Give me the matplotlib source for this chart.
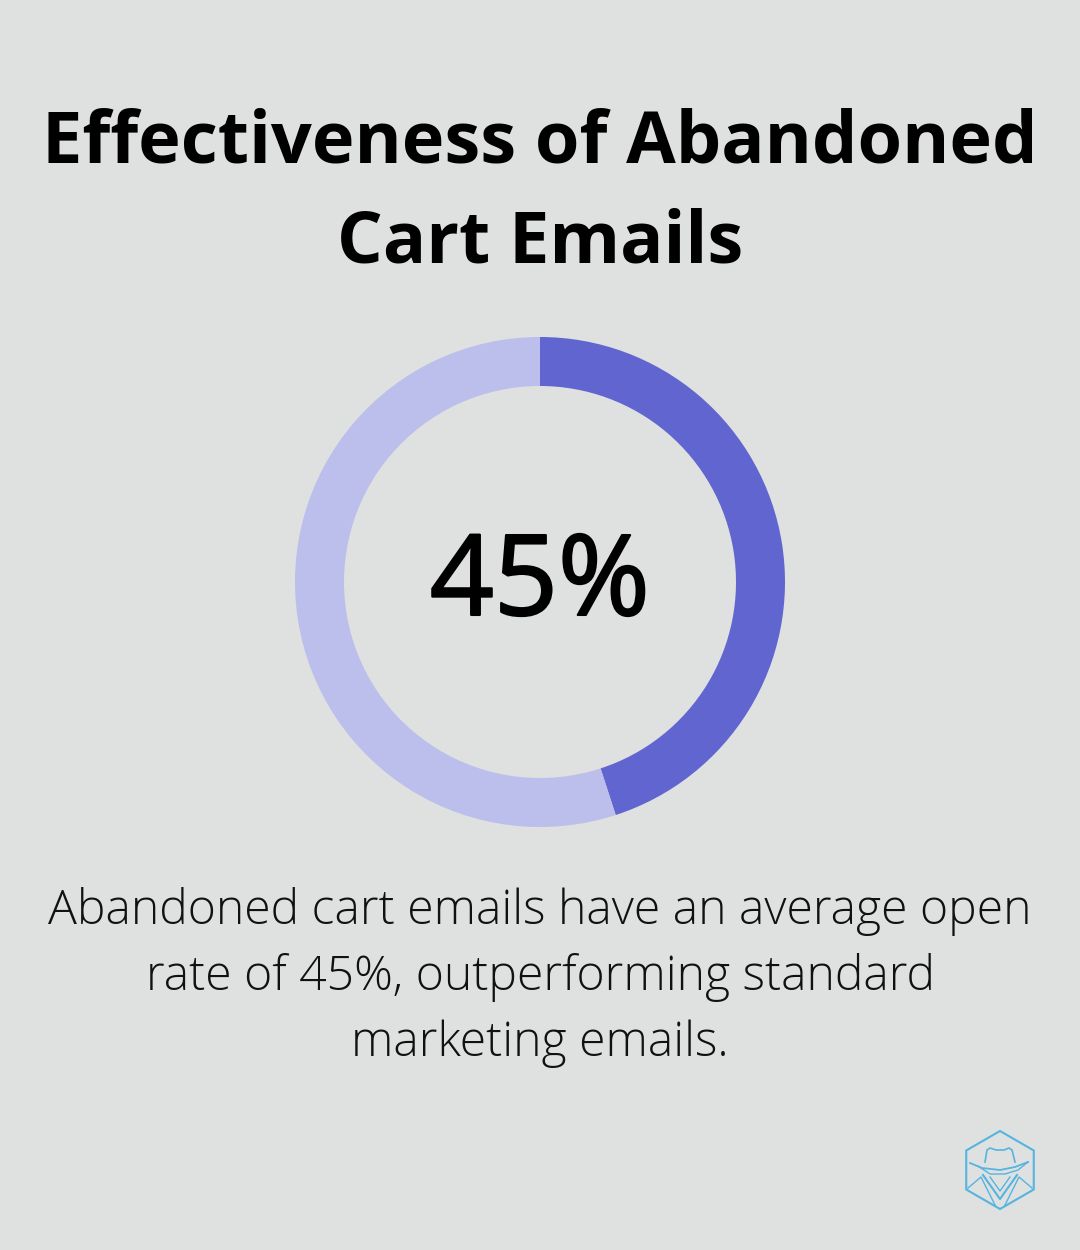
import matplotlib
matplotlib.use("Agg")
import matplotlib.pyplot as plt
import matplotlib.patheffects as pe
from matplotlib.patches import RegularPolygon

TITLE_LINES = ["Effectiveness of Abandoned", "Cart Emails"]
BODY_LINES = ["Abandoned cart emails have an average open",
              "rate of 45%, outperforming standard",
              "marketing emails."]
CENTER = "45%"
values = [45, 55]
colors = ["#6065D0", "#BCBEEC"]
BG = "#DEE1DF"

W, H = 1080, 1250
fig = plt.figure(figsize=(W/100, H/100), dpi=100, facecolor=BG)
FONT = "Open Sans"

for t, y in zip(TITLE_LINES, [143.6, 243.6]):
    fig.text(0.5, 1 - y/H, t, ha="center", va="center", family=FONT, weight="bold", fontsize=51.8, color="black")

size = 490
ax = fig.add_axes([(540 - 245)/W, 1 - (582 + 245)/H, size/W, size/H])
ax.pie(values, colors=colors, startangle=90, counterclock=False, radius=1,
       wedgeprops=dict(width=49/245, linewidth=0))
ax.set_xlim(-1, 1); ax.set_ylim(-1, 1)
ax.set_aspect("equal")
ax.patch.set_alpha(0)
ax.text(0, -0.016, CENTER, ha="center", va="center", family=FONT, fontsize=80.5, color="black",
        path_effects=[pe.withStroke(linewidth=1.6, foreground="black")])

for t, y in zip(BODY_LINES, [912, 978, 1044]):
    fig.text(0.5, 1 - y/H, t, ha="center", va="center", family=FONT, weight="light", fontsize=34.7, color="#111111")

# logo
lax = fig.add_axes([0, 0, 1, 1])
lax.set_xlim(0, W); lax.set_ylim(H, 0); lax.axis("off"); lax.patch.set_alpha(0)
c = "#56B4E0"
lax.add_patch(RegularPolygon((1000, 1170), 6, radius=39, fill=False, ec=c, lw=1.5))
# hat crown
lax.plot([985, 987, 990, 996, 1004, 1009, 1012, 1015],
         [1162, 1150, 1148, 1150, 1150, 1148, 1150, 1162], color=c, lw=1.2)
# brim
lax.plot([970, 982, 1000, 1015, 1028], [1163, 1168, 1170, 1167, 1162], color=c, lw=1.3)
lax.plot([978, 990, 1005, 1018, 1028], [1166, 1174, 1174, 1170, 1162], color=c, lw=1.0)
# collar
lax.plot([983, 1000, 1017], [1175, 1199, 1175], color=c, lw=1.5)
lax.plot([990, 1000, 1010], [1177, 1191, 1177], color=c, lw=1.0)
lax.plot([968, 981, 995], [1188, 1177, 1205], color=c, lw=1.0)
lax.plot([1032, 1019, 1005], [1188, 1177, 1205], color=c, lw=1.0)

fig.savefig("out.png", dpi=100, facecolor=BG)
